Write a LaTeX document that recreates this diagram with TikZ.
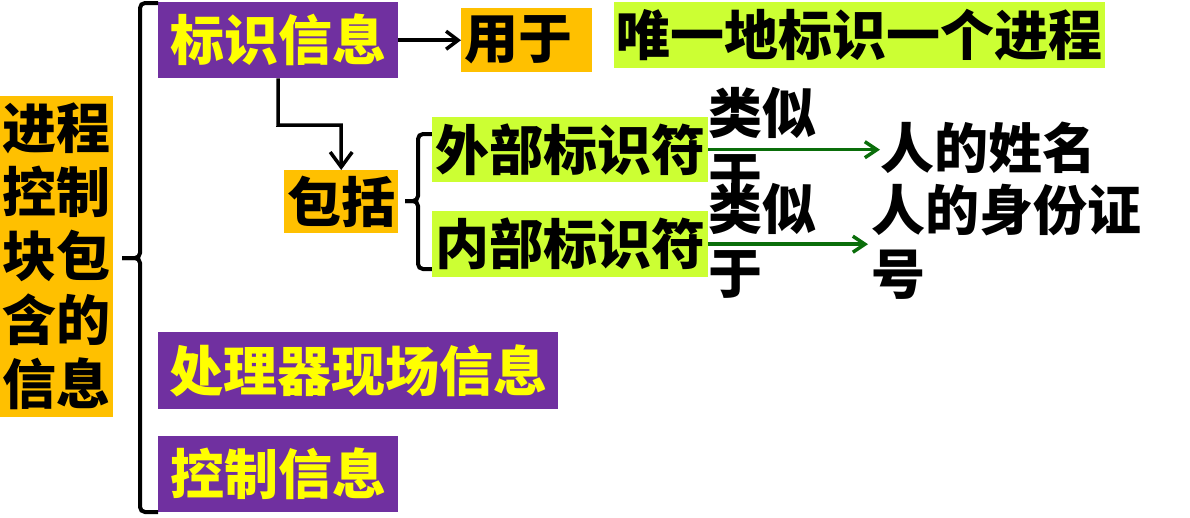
\documentclass[tikz,border=0pt]{standalone}
\usepackage{fontspec}
\setmainfont{Noto Sans CJK SC}
\usetikzlibrary{arrows.meta}
\definecolor{pur}{HTML}{7030A0}
\definecolor{yel}{HTML}{FFFF00}
\definecolor{org}{HTML}{FFC000}
\definecolor{lime}{HTML}{CCFF33}
\definecolor{dgreen}{HTML}{0A6E0A}
\begin{document}
\begin{tikzpicture}[x=1pt,y=-1pt,
  txt/.style={font=\bfseries\fontsize{54}{64}\selectfont, inner sep=0pt, text=black},
  pbox/.style={txt, fill=pur, text=yel, anchor=north west},
  obox/.style={txt, fill=org, anchor=north west},
  gbox/.style={txt, fill=lime, anchor=north west},
  brace/.style={line width=4pt, rounded corners=5pt},
  conn/.style={line width=3.5pt},
  barb/.style={-{Straight Barb[length=12pt,width=18pt]}}
]
\useasboundingbox (0,0) rectangle (1190,517);
\fill[white] (0,0) rectangle (1190,517);

% left summary box
\node[obox, minimum width=113pt, minimum height=321pt, align=center] (pcb) at (0,96)
  {进程\\控制\\块包\\含的\\信息};

% main category boxes
\node[pbox, minimum width=240pt, minimum height=76pt] (id) at (158,2) {标识信息};
\node[pbox, minimum width=400pt, minimum height=77pt] (cpu) at (158,332) {处理器现场信息};
\node[pbox, minimum width=240pt, minimum height=76pt] (ctl) at (158,436) {控制信息};

% big brace
\coordinate (bt) at (158,3);
\coordinate (bb) at (158,512);
\coordinate (bn) at (122,258);
\draw[brace] (bt) -- (140,3) -- (140,258) -- (bn);
\draw[brace] (bb) -- (140,512) -- (140,258) -- (bn);

% used for
\node[obox, minimum width=131pt, minimum height=64pt, text width=125pt, align=left] (use) at (461,8) {用于};
\node[gbox, minimum width=491pt, minimum height=66pt] (uniq) at (614,2) {唯一地标识一个进程};
\draw[conn, barb] (id.east) -- (use.west);

% includes
\node[obox, minimum width=114pt, minimum height=63pt] (inc) at (284,170) {包括};
\draw[conn, -{Straight Barb[length=15pt,width=22pt]}] (id.south) -- (278,125) -| (inc.north);

% small brace
\coordinate (st) at (432,134);
\coordinate (sb) at (432,269);
\coordinate (sn) at (405,201);
\draw[brace] (st) -- (418,134) -- (418,201) -- (sn);
\draw[brace] (sb) -- (418,269) -- (418,201) -- (sn);

\node[gbox, minimum width=276pt, minimum height=65pt] (ext) at (432,117) {外部标识符};
\node[gbox, minimum width=276pt, minimum height=66pt] (int) at (432,211) {内部标识符};

% similar to
\node[txt, align=left] (sim1) at (762,145) {类似\\于};
\node[txt, align=left] (sim2) at (762,241) {类似\\于};

\node[txt, anchor=west] (name) at (880,148) {人的姓名};
\node[txt, anchor=west, align=left] (idno) at (871,242) {人的身份证\\号};

\draw[conn, dgreen, -{Straight Barb[length=12pt,width=16pt]}] (ext.east) -- (ext.east -| name.west);
\draw[conn, dgreen, -{Straight Barb[length=12pt,width=16pt]}] (int.east) -- ([xshift=-3pt]int.east -| idno.west);
\end{tikzpicture}
\end{document}
